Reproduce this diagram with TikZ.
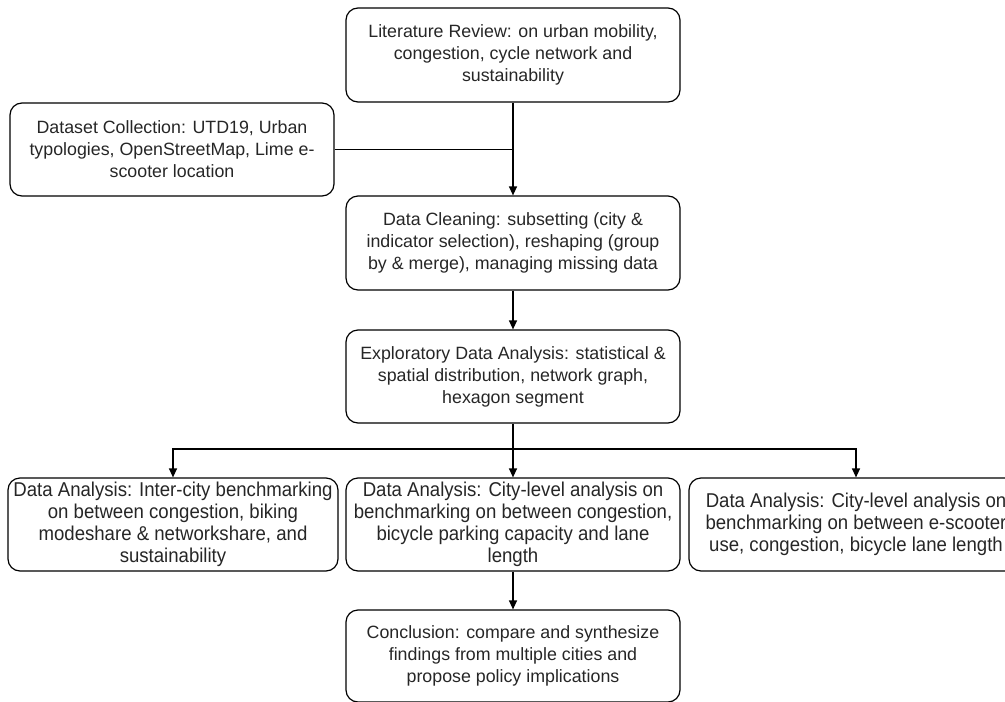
\documentclass[tikz,border=0pt]{standalone}
\usepackage{fontspec}
\setmainfont{Liberation Sans}
\newfontfamily\narrowfont[FakeStretch=0.93]{Liberation Sans}
\usetikzlibrary{arrows.meta}
\begin{document}
\begin{tikzpicture}[x=1pt,y=-1pt,
  box/.style={draw, line width=1.2pt, rounded corners=12pt, align=center, inner sep=0pt,
    font=\fontsize{17.8}{22}\selectfont, text=black!85},
  nbox/.style={box, font=\narrowfont\fontsize{20}{21.8}\selectfont},
  conn/.style={line width=1.2pt},
  arr/.style={conn, -{Triangle[length=9pt,width=8pt]}}]
\useasboundingbox (0,0) rectangle (1005,702);
\node[box, minimum width=334pt, minimum height=94pt] (lit) at (513,55)
  {Literature Review: on urban mobility,\\congestion, cycle network and\\sustainability};
\node[box, minimum width=324pt, minimum height=93pt] (data) at (172,149.5)
  {Dataset Collection: UTD19, Urban\\typologies, OpenStreetMap, Lime e-\\scooter location};
\node[box, minimum width=334pt, minimum height=94pt] (clean) at (513,243)
  {Data Cleaning: subsetting (city \&\\indicator selection), reshaping (group\\by \& merge), managing missing data};
\node[box, minimum width=334pt, minimum height=93pt] (eda) at (513,376.5)
  {Exploratory Data Analysis: statistical \&\\spatial distribution, network graph,\\hexagon segment};
\node[nbox, minimum width=330pt, minimum height=93pt] (da1) at (173,524.5)
  {Data Analysis: Inter-city benchmarking\\on between congestion, biking\\modeshare \& networkshare, and\\sustainability};
\node[nbox, minimum width=334pt, minimum height=93pt] (da2) at (513,524.5)
  {Data Analysis: City-level analysis on\\benchmarking on between congestion,\\bicycle parking capacity and lane\\length};
\node[nbox, minimum width=334pt, minimum height=93pt] (da3) at (856,524.5)
  {Data Analysis: City-level analysis on\\benchmarking on between e-scooter\\use, congestion, bicycle lane length};
\node[box, minimum width=334pt, minimum height=92pt] (conc) at (513,656)
  {Conclusion: compare and synthesize\\findings from multiple cities and\\propose policy implications};
\coordinate (j1) at (513,149.5);
\coordinate (j2) at (513,449);
\draw[arr] (lit) -- (clean);
\draw[conn] (data.east) -- (j1);
\draw[arr] (clean) -- (eda);
\draw[conn] (eda.south) -- (j2);
\draw[arr] (j2) -- (da2.north);
\draw[arr] (j2) -| (da1.north);
\draw[arr] (j2) -| (da3.north);
\draw[arr] (da2) -- (conc);
\end{tikzpicture}
\end{document}
